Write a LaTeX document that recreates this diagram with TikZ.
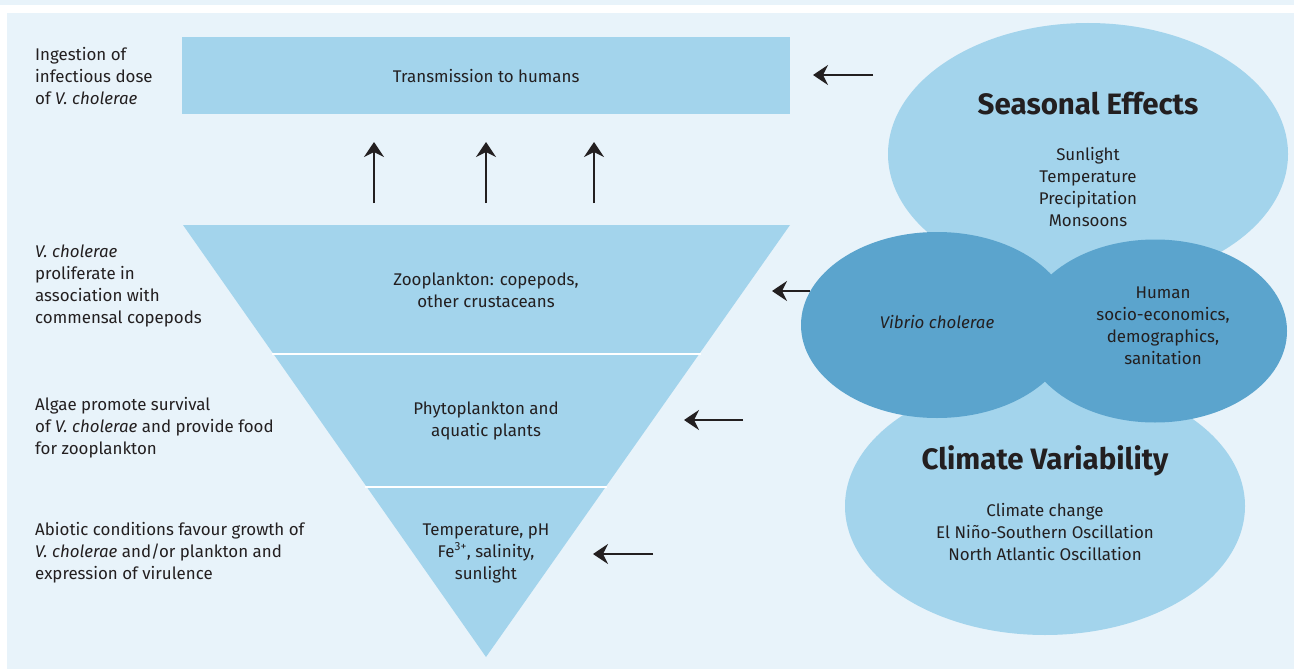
\documentclass[tikz,border=0pt]{standalone}
\usepackage{fontspec}
\setmainfont{Fira Sans}
\usetikzlibrary{arrows.meta,shapes.geometric}
\definecolor{panel}{HTML}{E8F3FA}
\definecolor{lblue}{HTML}{A3D4EC}
\definecolor{dblue}{HTML}{5BA4CD}
\definecolor{ink}{HTML}{231F20}
\begin{document}
\begin{tikzpicture}[x=1pt,y=-1pt,
  body/.style={font=\fontsize{16.9}{22}\selectfont, text=ink, align=center, inner sep=0pt},
  side/.style={body, align=left, anchor=west},
  title/.style={font=\fontsize{29.5}{32}\selectfont\bfseries, text=ink, inner sep=0pt},
  arr/.style={draw=ink, line width=2.9pt, -{Stealth[length=15pt,width=20pt,inset=5pt]}},
  lblob/.style={ellipse, fill=lblue, inner sep=0pt, draw=none},
  dblob/.style={ellipse, fill=dblue, inner sep=0pt, draw=none},
]
\useasboundingbox (0,0) rectangle (1294,669);
\fill[panel] (0,0) rectangle (1294,5);
\fill[white] (0,5) rectangle (1294,13);
\fill[panel] (7,13) rectangle (1294,669);

% transmission box
\node[fill=lblue, minimum width=608pt, minimum height=77pt, inner sep=0pt, anchor=north west] (trans) at (182,37) {};
\node[body] (transT) at (trans.center) {Transmission to humans};

% inverted triangle bands
\fill[lblue] (183,225) -- (790,225) -- (699.2,354) -- (273.5,354) -- cycle;
\fill[lblue] (273.5,354) -- (699.2,354) -- (605.6,487) -- (366.8,487) -- cycle;
\fill[lblue] (366.8,487) -- (605.6,487) -- (486,657) -- cycle;
\draw[white, line width=2pt] (272,354) -- (701,354);
\draw[white, line width=2pt] (365,487) -- (607,487);
\node[body] (zoo) at (486,290) {Zooplankton: copepods,\\other crustaceans};
\node[body] (phyto) at (486,421) {Phytoplankton and\\aquatic plants};
\node[body] (abio) at (486,553) {Temperature, pH\\Fe\textsuperscript{3+}, salinity,\\sunlight};

% side labels
\node[side] (s1) at (35,76) {Ingestion of\\infectious dose\\of \textit{V. cholerae}};
\node[side] (s2) at (35,286) {\textit{V. cholerae}\\proliferate in\\association with\\commensal copepods};
\node[side] (s3) at (35,428) {Algae promote survival\\of \textit{V. cholerae} and provide food\\for zooplankton};
\node[side] (s4) at (35,553) {Abiotic conditions favour growth of\\\textit{V. cholerae} and/or plankton and\\expression of virulence};

% ellipses
\node[lblob, minimum width=400pt, minimum height=262pt] (seas) at (1088,154) {};
\node[lblob, minimum width=400pt, minimum height=258pt] (clim) at (1045,506) {};
\node[dblob, minimum width=272pt, minimum height=186pt] (vib) at (937,325) {};
\node[dblob, minimum width=264pt, minimum height=183pt] (hum) at (1155,331) {};

\node[title] (seasT) at (1088,104) {Seasonal Effects};
\node[body] (seasB) at (1088,187) {Sunlight\\Temperature\\Precipitation\\Monsoons};
\node[title] (climT) at (1045,461) {Climate Variability};
\node[body] (climB) at (1045,532) {Climate change\\El Niño-Southern Oscillation\\North Atlantic Oscillation};
\node[body, font=\fontsize{16.9}{22}\selectfont\itshape] (vibT) at (937,322) {Vibrio cholerae};
\node[body] (humT) at (1163,326) {Human\\socio-economics,\\demographics,\\sanitation};

% up arrows
\foreach \x/\n in {374/a,486/b,594/c}{
  \coordinate (u\n0) at (\x,203);
  \coordinate (u\n1) at (\x,142);
  \draw[arr] (u\n0) -- (u\n1);
}
% left arrows
\coordinate (l10) at (873,75);  \coordinate (l11) at (813,75);
\coordinate (l20) at (810,291); \coordinate (l21) at (772,291);
\coordinate (l30) at (743,420); \coordinate (l31) at (684,420);
\coordinate (l40) at (653,554); \coordinate (l41) at (593,554);
\draw[arr] (l10) -- (l11);
\draw[arr] (l20) -- (l21);
\draw[arr] (l30) -- (l31);
\draw[arr] (l40) -- (l41);
\end{tikzpicture}
\end{document}
